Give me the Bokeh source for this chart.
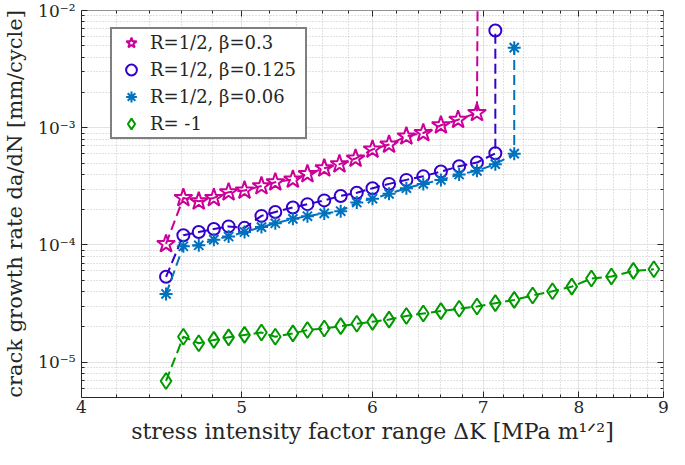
from bokeh.plotting import figure
from bokeh.models import (FixedTicker, LogAxis, CustomJSTickFormatter, Legend, LegendItem,
                          Range1d, ColumnDataSource)
from bokeh.embed import file_html
from bokeh.resources import INLINE

# ---------------- data ----------------
# R=1/2, beta=0.3 (last point runs off the top of the chart)
dk_a = [4.50, 4.61, 4.71, 4.81, 4.91, 5.02, 5.14, 5.24, 5.37, 5.48, 5.61, 5.73, 5.86,
        6.00, 6.14, 6.29, 6.44, 6.60, 6.76, 6.94, 6.95]
rate_a = [1.02e-4, 2.52e-4, 2.36e-4, 2.52e-4, 2.82e-4, 2.92e-4, 3.18e-4, 3.43e-4, 3.62e-4,
          4.03e-4, 4.51e-4, 4.89e-4, 5.46e-4, 6.53e-4, 7.19e-4, 8.45e-4, 9.02e-4, 1.05e-3,
          1.17e-3, 1.34e-3, 5.0e-2]

# R=1/2, beta=0.125
dk_b = [4.50, 4.61, 4.71, 4.81, 4.91, 5.02, 5.14, 5.24, 5.37, 5.48, 5.61, 5.74, 5.87,
        6.00, 6.14, 6.29, 6.44, 6.60, 6.77, 6.94, 7.12, 7.12]
rate_b = [5.35e-5, 1.21e-4, 1.29e-4, 1.37e-4, 1.44e-4, 1.40e-4, 1.77e-4, 1.91e-4, 2.09e-4,
          2.23e-4, 2.40e-4, 2.62e-4, 2.79e-4, 3.05e-4, 3.32e-4, 3.59e-4, 3.85e-4, 4.23e-4,
          4.69e-4, 5.05e-4, 6.05e-4, 6.75e-3]

# R=1/2, beta=0.06
dk_c = [4.50, 4.61, 4.71, 4.81, 4.91, 5.02, 5.14, 5.24, 5.37, 5.48, 5.61, 5.74, 5.87,
        6.00, 6.14, 6.29, 6.44, 6.60, 6.77, 6.94, 7.12, 7.31, 7.31]
rate_c = [3.82e-5, 9.75e-5, 9.94e-5, 1.11e-4, 1.18e-4, 1.29e-4, 1.42e-4, 1.53e-4, 1.67e-4,
          1.76e-4, 1.86e-4, 1.94e-4, 2.30e-4, 2.48e-4, 2.73e-4, 3.05e-4, 3.32e-4, 3.59e-4,
          3.99e-4, 4.29e-4, 4.89e-4, 6.01e-4, 4.82e-3]

# R=-1
dk_d = [4.50, 4.61, 4.71, 4.81, 4.91, 5.02, 5.14, 5.24, 5.37, 5.48, 5.61, 5.74, 5.87,
        6.00, 6.14, 6.29, 6.44, 6.60, 6.77, 6.94, 7.12, 7.31, 7.50, 7.71, 7.92, 8.14,
        8.37, 8.63, 8.88]
rate_d = [6.92e-6, 1.65e-5, 1.45e-5, 1.55e-5, 1.63e-5, 1.71e-5, 1.79e-5, 1.65e-5, 1.76e-5,
          1.88e-5, 1.94e-5, 2.03e-5, 2.13e-5, 2.21e-5, 2.31e-5, 2.48e-5, 2.60e-5, 2.73e-5,
          2.86e-5, 2.99e-5, 3.19e-5, 3.40e-5, 3.71e-5, 4.03e-5, 4.41e-5, 5.18e-5, 5.38e-5,
          6.01e-5, 6.20e-5]

series_labels = ["R=1/2, β=0.3", "R=1/2, β=0.125", "R=1/2, β=0.06", "R= -1"]

x_ticks = [4, 5, 6, 7, 8, 9]
x_tick_labels = ["4", "5", "6", "7", "8", "9"]
x_minor_ticks = [4.2, 4.4, 4.6, 4.8, 5.2, 5.4, 5.6, 5.8, 6.2, 6.4, 6.6, 6.8,
                 7.2, 7.4, 7.6, 7.8, 8.2, 8.4, 8.6, 8.8]
y_ticks = [1e-5, 1e-4, 1e-3, 1e-2]
y_tick_labels = ["10⁻⁵", "10⁻⁴", "10⁻³", "10⁻²"]
y_minor_ticks = [m * d for d in (1e-6, 1e-5, 1e-4, 1e-3) for m in range(2, 10)
                 if 5e-6 <= m * d <= 1e-2]

x_label = "stress intensity factor range ΔK [MPa m¹ᐟ²]"
y_label = "crack growth rate da/dN [mm/cycle]"

# ---------------- styling ----------------
FONT = "DejaVu Serif"
TXT = "#262626"
colors = ["#CC0099", "#3300CC", "#0072BD", "#009900"]
markers = ["star", "circle", "asterisk", "diamond"]
sizes = [19, 12, 13, 16]

p = figure(width=669, height=449, x_axis_type="log", y_axis_type="log",
           x_range=Range1d(4, 9), y_range=Range1d(5e-6, 1e-2),
           output_backend="svg", toolbar_location=None,
           min_border_left=78, min_border_right=6, min_border_top=10, min_border_bottom=52)
p.outline_line_color = None
p.background_fill_color = "white"

xticker = FixedTicker(ticks=x_ticks, minor_ticks=x_minor_ticks)
yticker = FixedTicker(ticks=y_ticks, minor_ticks=y_minor_ticks)

fmt_code = """
let best = 0, bd = Infinity;
for (let i = 0; i < vals.length; i++) {
  const d = Math.abs(Math.log(tick) - Math.log(vals[i]));
  if (d < bd) { bd = d; best = i; }
}
return labs[best];
"""

def style_axis(ax):
    ax.axis_line_color = TXT
    ax.axis_line_width = 1
    ax.major_tick_line_color = TXT
    ax.minor_tick_line_color = TXT
    ax.major_tick_in = 6
    ax.major_tick_out = 0
    ax.minor_tick_in = 3
    ax.minor_tick_out = 0
    ax.major_label_text_font = FONT
    ax.major_label_text_font_size = "17px"
    ax.major_label_text_color = TXT

xa = p.xaxis[0]
xa.ticker = xticker
xa.formatter = CustomJSTickFormatter(args=dict(vals=x_ticks, labs=x_tick_labels), code=fmt_code)
style_axis(xa)
xa.major_label_standoff = 3
xa.axis_label = x_label
xa.axis_label_text_font = FONT
xa.axis_label_text_font_size = "22px"
xa.axis_label_text_font_style = "normal"
xa.axis_label_text_color = TXT
xa.axis_label_standoff = 3

ya = p.yaxis[0]
ya.ticker = yticker
ya.formatter = CustomJSTickFormatter(args=dict(vals=y_ticks, labs=y_tick_labels), code=fmt_code)
style_axis(ya)
ya.major_label_standoff = 6
ya.axis_label = y_label
ya.axis_label_text_font = FONT
ya.axis_label_text_font_size = "21px"
ya.axis_label_text_font_style = "normal"
ya.axis_label_text_color = TXT
ya.axis_label_standoff = 8

# box axes on top and right (ticks only, drawn on the frame edge)
for loc, tk, fl in (("above", xticker, y_ticks[-1]), ("right", yticker, x_ticks[-1])):
    ax = LogAxis(ticker=tk, formatter=CustomJSTickFormatter(code="return ''"),
                 fixed_location=fl)
    style_axis(ax)
    ax.major_label_text_font_size = "0px"
    ax.major_label_standoff = 0
    p.add_layout(ax, loc)

for g in (p.xgrid[0], p.ygrid[0]):
    g.grid_line_color = "#e3e3e3"
    g.grid_line_width = 1
    g.minor_grid_line_color = "#c4c4c4"
    g.minor_grid_line_dash = "1 2"
    g.minor_grid_line_width = 1
p.xgrid[0].ticker = xticker
p.ygrid[0].ticker = yticker

# ---------------- data marks ----------------
items = []
for dk, rate, c, m, s, lab in zip((dk_a, dk_b, dk_c, dk_d), (rate_a, rate_b, rate_c, rate_d),
                                  colors, markers, sizes, series_labels):
    src = ColumnDataSource(dict(x=dk, y=rate))
    p.line("x", "y", source=src, line_color=c, line_width=2, line_dash="10 5")
    r = p.scatter("x", "y", source=src, marker=m, size=s, line_color=c, line_width=2,
                  fill_alpha=0)
    items.append(LegendItem(label=lab, renderers=[r]))

legend = Legend(items=items, location=(29, 258), padding=0, spacing=0, margin=0,
                glyph_width=38, glyph_height=27, label_height=27, label_standoff=0,
                label_width=155,
                label_text_font=FONT, label_text_font_size="18px", label_text_color=TXT,
                border_line_color="black", border_line_width=2,
                background_fill_color="white", background_fill_alpha=1)
p.add_layout(legend)

open("out.html", "w").write(file_html(p, INLINE))
